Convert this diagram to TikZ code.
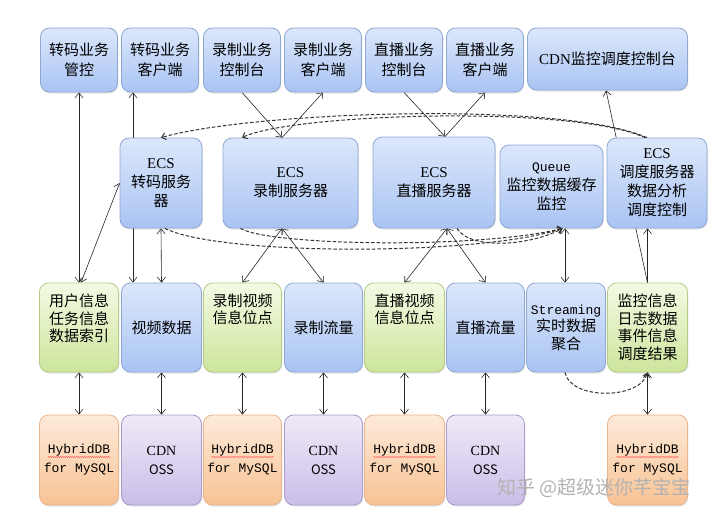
\documentclass[tikz,border=0pt]{standalone}
\usepackage{fontspec}
\setmainfont{Noto Sans CJK SC}
\newfontfamily\lserif{Liberation Serif}
\newfontfamily\lmono{Liberation Mono}
\usetikzlibrary{arrows.meta,shadows,backgrounds,decorations.pathmorphing}
\pgfdeclarelayer{bottom}
\pgfsetlayers{bottom,background,main}

\definecolor{bluetop}{HTML}{DCE7FB}
\definecolor{bluebot}{HTML}{A9C4F3}
\definecolor{blueline}{HTML}{8EA8D2}
\definecolor{greentop}{HTML}{F4FAE4}
\definecolor{greenbot}{HTML}{CDE59C}
\definecolor{greenline}{HTML}{B4CC88}
\definecolor{orangetop}{HTML}{FDEAD9}
\definecolor{orangebot}{HTML}{F8C394}
\definecolor{orangeline}{HTML}{E8B68E}
\definecolor{purptop}{HTML}{EFEAF8}
\definecolor{purpbot}{HTML}{CBBDE8}
\definecolor{purpline}{HTML}{A99BCB}

\tikzset{
  box/.style={rounded corners=9pt, line width=0.8pt, inner sep=0pt, align=center,
    drop shadow={opacity=0.22,shadow xshift=0.8pt,shadow yshift=-1.5pt}},
  bluebox/.style={box, draw=blueline, top color=bluetop, bottom color=bluebot},
  greenbox/.style={box, draw=greenline, top color=greentop, bottom color=greenbot},
  orangebox/.style={box, draw=orangeline, top color=orangetop, bottom color=orangebot},
  purpbox/.style={box, draw=purpline, top color=purptop, bottom color=purpbot},
  zh/.style={font=\fontsize{15}{19}\selectfont},
  zhtop/.style={font=\fontsize{15}{20}\selectfont},
  zhc/.style={font=\fontsize{15}{17.5}\selectfont},
  dbtext/.style={font=\fontsize{13}{19}\selectfont},
  barb/.tip={Straight Barb[length=5pt,width=8pt]},
  arr/.style={-barb, line width=0.6pt, draw=black!85},
  darr/.style={barb-barb, line width=0.6pt, draw=black!85},
  dasharr/.style={-{Straight Barb[length=4pt,width=7pt]}, dash pattern=on 3.5pt off 2pt, line width=1pt, draw=black!80},
  squig/.style={draw=red!75, line width=0.5pt, decorate, decoration={snake,amplitude=0.5pt,segment length=2pt}},
}

\begin{document}
\begin{tikzpicture}[x=1pt,y=-1pt]
\begin{pgfonlayer}{bottom}
\fill[white] (0,0) rectangle (720,522);
\end{pgfonlayer}
\useasboundingbox (0,0) rectangle (720,522);

% top row
\node[bluebox, zhtop, minimum width=77pt, minimum height=64pt] (A1) at (79,60) {转码业务\\管控};
\node[bluebox, zhtop, minimum width=77pt, minimum height=64pt] (A2) at (160,60) {转码业务\\客户端};
\node[bluebox, zhtop, minimum width=77pt, minimum height=64pt] (A3) at (242,60) {录制业务\\控制台};
\node[bluebox, zhtop, minimum width=77pt, minimum height=64pt] (A4) at (323,60) {录制业务\\客户端};
\node[bluebox, zhtop, minimum width=77pt, minimum height=64pt] (A5) at (404,60) {直播业务\\控制台};
\node[bluebox, zhtop, minimum width=77pt, minimum height=64pt] (A6) at (485,60) {直播业务\\客户端};
\node[bluebox, zhtop, minimum width=160pt, minimum height=62pt] (A7) at (607.5,59) {{\lserif CDN}监控调度控制台};

% ECS row
\node[bluebox, zh, minimum width=82pt, minimum height=90pt] (B1) at (161,183) {{\lserif ECS}\\转码服务\\器};
\node[bluebox, zh, minimum width=135pt, minimum height=90pt] (B2) at (290.5,183) {{\lserif ECS}\\录制服务器};
\node[bluebox, zh, minimum width=122pt, minimum height=91pt] (B3) at (434,182.5) {{\lserif ECS}\\直播服务器};
\node[bluebox, zh, minimum width=103pt, minimum height=83pt] (B4) at (551.5,186.5) {{\lmono\fontsize{13}{19}\selectfont Queue}\\监控数据缓存\\监控};
\node[bluebox, zh, minimum width=100pt, minimum height=90pt] (B5) at (657,183) {{\lserif ECS}\\调度服务器\\数据分析\\调度控制};

% data row
\node[greenbox, minimum width=79pt, minimum height=89pt] (C1) at (79,327.5) {};
\node[bluebox, zhc, minimum width=80pt, minimum height=89pt] (C2) at (161.5,327.5) {视频数据};
\node[greenbox, minimum width=78pt, minimum height=89pt] (C3) at (242.5,327.5) {};
\node[bluebox, zhc, minimum width=78pt, minimum height=89pt] (C4) at (323.5,327.5) {录制流量};
\node[greenbox, minimum width=80pt, minimum height=89pt] (C5) at (404.5,327.5) {};
\node[bluebox, zhc, minimum width=78pt, minimum height=89pt] (C6) at (485.5,327.5) {直播流量};
\node[bluebox, zhc, minimum width=79pt, minimum height=89pt] (C7) at (566,327.5) {{\lmono\fontsize{13}{17.5}\selectfont Streaming}\\实时数据\\聚合};
\node[greenbox, minimum width=80pt, minimum height=89pt] (C8) at (647.5,327.5) {};

\node[zhc, align=center, anchor=north, inner sep=0pt] (C1t) at ([yshift=-11pt]C1.north) {用户信息\\任务信息\\数据索引};
\node[zhc, align=center, anchor=north, inner sep=0pt] (C3t) at ([yshift=-11pt]C3.north) {录制视频\\信息位点};
\node[zhc, align=center, anchor=north, inner sep=0pt] (C5t) at ([yshift=-11pt]C5.north) {直播视频\\信息位点};
\node[zhc, align=center, anchor=north, inner sep=0pt] (C8t) at ([yshift=-11pt]C8.north) {监控信息\\日志数据\\事件信息\\调度结果};

% storage row
\node[orangebox, dbtext, minimum width=79pt, minimum height=90pt] (D1) at (79,460) {\lmono HybridDB\\\lmono for MySQL};
\node[purpbox, dbtext, minimum width=80pt, minimum height=90pt] (D2) at (161.5,460) {\lserif\fontsize{14}{19}\selectfont CDN\\OSS};
\node[orangebox, dbtext, minimum width=78pt, minimum height=90pt] (D3) at (242.5,460) {\lmono HybridDB\\\lmono for MySQL};
\node[purpbox, dbtext, minimum width=78pt, minimum height=90pt] (D4) at (323.5,460) {\lserif\fontsize{14}{19}\selectfont CDN\\OSS};
\node[orangebox, dbtext, minimum width=80pt, minimum height=90pt] (D5) at (404.5,460) {\lmono HybridDB\\\lmono for MySQL};
\node[purpbox, dbtext, minimum width=78pt, minimum height=90pt] (D6) at (485.5,460) {\lserif\fontsize{14}{19}\selectfont CDN\\OSS};
\node[orangebox, dbtext, minimum width=80pt, minimum height=90pt] (D8) at (647.5,460) {\lmono HybridDB\\\lmono for MySQL};

\foreach \d in {D1,D3,D5,D8}{
  \draw[squig] ([xshift=-31pt,yshift=3pt]\d.center) -- ([xshift=31pt,yshift=3pt]\d.center);
}

% watermark
\node[text=black!30, font=\fontsize{19}{19}\selectfont, inner sep=0pt] (wm) at (594,488) {知乎 @超级迷你芊宝宝};

\begin{scope}[on background layer]
  % top row links
  \draw[darr] (A1.south) -- (C1.north);
  \draw[darr] ([xshift=-27pt]A2.south) -- ([xshift=-28.5pt]C2.north);
  \draw[darr] (B1.south) -- (C2.north);
  \draw[darr] (B1.west) -- ([xshift=2pt]C1.north);
  \draw[arr] (A3.south) -- ([xshift=-8.5pt]B2.north);
  \draw[arr] ([xshift=-8.5pt]B2.north) -- (A4.south);
  \draw[arr] (A5.south) -- ([xshift=11pt]B3.north);
  \draw[arr] ([xshift=11pt]B3.north) -- (A6.south);
  \draw[arr] (C8.north) -- ([xshift=-1.5pt]A7.south);
  \draw[arr] (C8.north) -- ([xshift=-9.5pt]B5.south);
  % ECS to data
  \draw[darr] ([xshift=-8.5pt]B2.south) -- (C3.north);
  \draw[darr] ([xshift=-8.5pt]B2.south) -- (C4.north);
  \draw[darr] ([xshift=13pt]B3.south) -- (C5.north);
  \draw[darr] ([xshift=13pt]B3.south) -- (C6.north);
  \draw[darr] ([xshift=13.5pt]B4.south) -- ([xshift=-1pt]C7.north);
  % data to storage
  \draw[darr] (C1.south) -- (D1.north);
  \draw[darr] (C2.south) -- (D2.north);
  \draw[darr] (C3.south) -- (D3.north);
  \draw[darr] (C4.south) -- (D4.north);
  \draw[darr] (C5.south) -- (D5.north);
  \draw[darr] (C6.south) -- (D6.north);
  \draw[darr] (C8.south) -- (D8.north);
\end{scope}

% dashed links
\draw[dasharr] ([xshift=-10pt]B5.north) .. controls (560,100) and (250,112) .. (B1.north);
\draw[dasharr] ([xshift=-12pt]B5.north) .. controls (570,104) and (290,114) .. ([xshift=-48.5pt]B2.north);
\draw[dasharr] ([xshift=4pt]B1.south) .. controls (220,256) and (480,256) .. ([xshift=11pt]B4.south);
\draw[dasharr] ([xshift=-50pt]B2.south) .. controls (270,246) and (480,249) .. ([xshift=11pt]B4.south);
\draw[dasharr] ([xshift=23pt]B3.south) .. controls (470,250) and (530,246) .. ([xshift=11pt]B4.south);
\draw[dasharr] ([xshift=-1pt]C7.south) .. controls (570,400) and (640,400) .. (C8.south);
\end{tikzpicture}
\end{document}
